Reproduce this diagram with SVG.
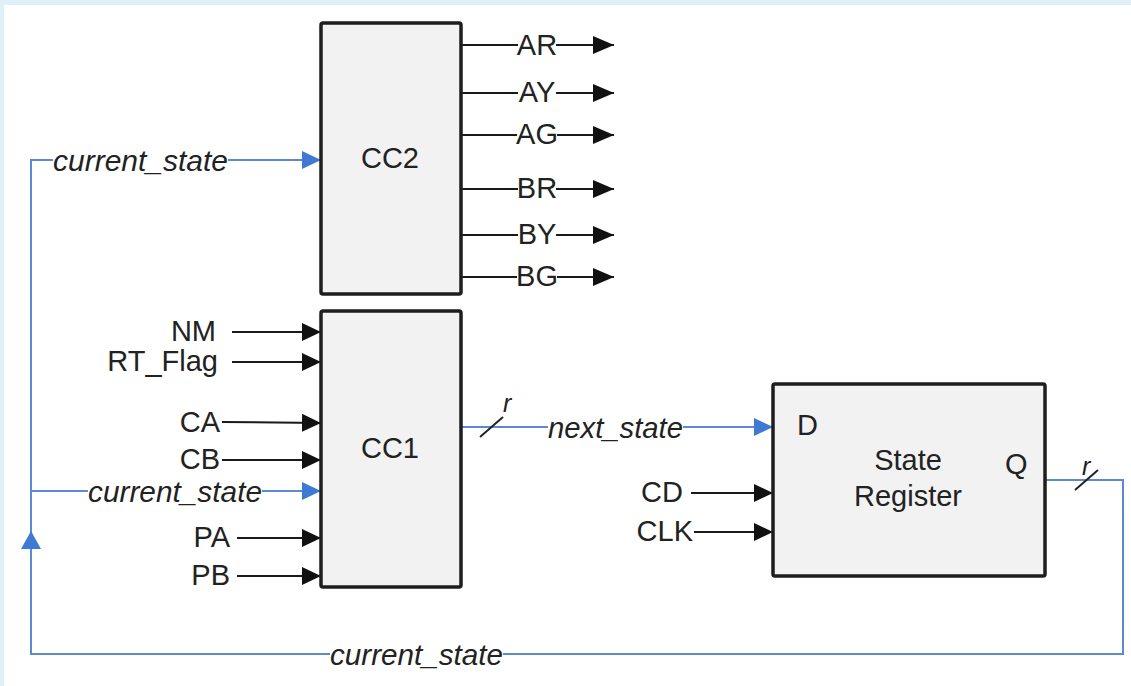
<svg xmlns="http://www.w3.org/2000/svg" width="1131" height="686" viewBox="0 0 1131 686">
<style>
.box{fill:#f2f2f2;stroke:#1e1e1e;stroke-width:3.5}
.w{stroke:#1a1a1a;stroke-width:2;fill:none}
.b{stroke:#5a8ad2;stroke-width:2;fill:none}
.t{font-family:"Liberation Sans",Arial,sans-serif;font-size:29px;fill:#222}
.i{font-family:"Liberation Sans",Arial,sans-serif;font-size:29px;font-style:italic;fill:#222}
.r{font-family:"Liberation Sans",Arial,sans-serif;font-size:25px;font-style:italic;fill:#222}
.m{text-anchor:middle}
.e{text-anchor:end}
</style>
<defs>
<marker id="ak" markerUnits="userSpaceOnUse" markerWidth="20" markerHeight="18" refX="19" refY="9" orient="auto"><path d="M0,0 L19,9 L0,18 z" fill="#111"/></marker>
<marker id="ak2" markerUnits="userSpaceOnUse" markerWidth="22" markerHeight="18" refX="21" refY="9" orient="auto"><path d="M0,0 L21,9 L0,18 z" fill="#111"/></marker>
<marker id="ab" markerUnits="userSpaceOnUse" markerWidth="20" markerHeight="18" refX="19" refY="9" orient="auto"><path d="M0,0 L19,9 L0,18 z" fill="#3f79d4"/></marker>
</defs>
<rect x="0" y="0" width="1131" height="686" fill="#ffffff"/>
<rect x="0" y="0" width="1131" height="5" fill="#dff0f8"/>
<rect x="0" y="0" width="4" height="686" fill="#dff0f8"/>

<g id="connectors">
<!-- CC2 outputs -->
<path class="w" d="M461,45 H518"/><path class="w" d="M556,45 H614" marker-end="url(#ak2)"/>
<path class="w" d="M461,93 H518"/><path class="w" d="M556,93 H614" marker-end="url(#ak2)"/>
<path class="w" d="M461,135 H517"/><path class="w" d="M557,135 H614" marker-end="url(#ak2)"/>
<path class="w" d="M461,189 H518"/><path class="w" d="M556,189 H614" marker-end="url(#ak2)"/>
<path class="w" d="M461,235 H518"/><path class="w" d="M556,235 H614" marker-end="url(#ak2)"/>
<path class="w" d="M461,277 H517"/><path class="w" d="M557,277 H614" marker-end="url(#ak2)"/>
<!-- CC1 inputs -->
<path class="w" d="M232,332 H321" marker-end="url(#ak)"/>
<path class="w" d="M232,362 H321" marker-end="url(#ak)"/>
<path class="w" d="M222,422 L321,423" marker-end="url(#ak)"/>
<path class="w" d="M222,460 H321" marker-end="url(#ak)"/>
<path class="w" d="M237,538 H321" marker-end="url(#ak)"/>
<path class="w" d="M237,576 H321" marker-end="url(#ak)"/>
<!-- State register inputs -->
<path class="w" d="M691,493 H773" marker-end="url(#ak)"/>
<path class="w" d="M694,532 H773" marker-end="url(#ak)"/>
<!-- current_state loop -->
<path class="b" d="M53,160 H31 V654 H330"/>
<path class="b" d="M228,160 H321" marker-end="url(#ab)"/>
<path class="b" d="M31,491 H88"/>
<path class="b" d="M262,491 H321" marker-end="url(#ab)"/>
<path class="b" d="M503,654 H1123 V480 H1045"/>
<polygon points="31,531 21,549 41,549" fill="#3f79d4"/>
<!-- next_state -->
<path class="b" d="M461,427 H548"/>
<path class="b" d="M683,427 H773" marker-end="url(#ab)"/>
<!-- bus slashes -->
<path d="M480,437 L503,417" stroke="#222" stroke-width="2"/>
<path d="M1075,490 L1098,470" stroke="#222" stroke-width="2"/>
<text class="r" x="503" y="412">r</text>
<text class="r" x="1082" y="475">r</text>
<!-- connector labels -->
<text class="t m" x="537" y="54.5">AR</text>
<text class="t m" x="537" y="102">AY</text>
<text class="t m" x="537" y="144">AG</text>
<text class="t m" x="537" y="198">BR</text>
<text class="t m" x="537" y="244">BY</text>
<text class="t m" x="537" y="286">BG</text>
<text class="t e" x="216" y="341">NM</text>
<text class="t e" x="218" y="371">RT_Flag</text>
<text class="t e" x="220" y="432">CA</text>
<text class="t e" x="220" y="469">CB</text>
<text class="t e" x="230" y="547">PA</text>
<text class="t e" x="230" y="585">PB</text>
<text class="t e" x="683" y="502">CD</text>
<text class="t e" x="693" y="541">CLK</text>
<text class="i" x="53" y="171" textLength="175" lengthAdjust="spacingAndGlyphs">current_state</text>
<text class="i" x="88" y="502" textLength="174" lengthAdjust="spacingAndGlyphs">current_state</text>
<text class="i" x="330" y="665" textLength="173" lengthAdjust="spacingAndGlyphs">current_state</text>
<text class="i" x="548" y="438" textLength="135" lengthAdjust="spacingAndGlyphs">next_state</text>
</g>

<g id="CC2">
<rect class="box" x="321" y="23" width="140" height="271" rx="2"/>
<text class="t m" x="390" y="168">CC2</text>
</g>
<g id="CC1">
<rect class="box" x="321" y="311" width="140" height="276" rx="2"/>
<text class="t m" x="390" y="458">CC1</text>
</g>
<g id="StateRegister">
<rect class="box" x="773" y="384" width="272" height="192" rx="2"/>
<text class="t" x="797" y="435">D</text>
<text class="t" x="1005" y="474">Q</text>
<text class="t m" x="908" y="470">State</text>
<text class="t m" x="908" y="506">Register</text>
</g>
</svg>
